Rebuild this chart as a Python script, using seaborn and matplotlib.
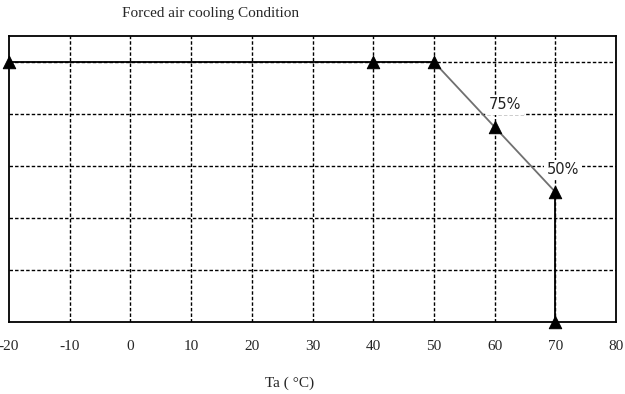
import matplotlib
matplotlib.use("Agg")
import matplotlib.pyplot as plt
import pandas as pd
import seaborn as sns

# derating curve data
temps = [-20, 40, 50, 60, 70, 70]
load = [100, 100, 100, 75, 50, 0]
x_ticks = [-20, -10, 0, 10, 20, 30, 40, 50, 60, 70, 80]
y_grid = [20, 40, 60, 80, 100]
note_labels = ["75%", "50%"]
note_x = [61.7, 71.3]
note_y = [83.5, 58.5]

df = pd.DataFrame({"Ta": temps, "load": load})

sns.set_style("white")
plt.rcParams["font.family"] = ["Liberation Serif", "DejaVu Serif"]

fig = plt.figure(figsize=(6.25, 3.94), dpi=100)
ax = fig.add_axes([9 / 625, 1 - 322 / 394, 607 / 625, 286 / 394])

# grid
for xv in x_ticks[1:-1]:
    ax.axvline(xv, color="black", lw=1, ls=(0, (2.5, 1.5)), zorder=1)
for yv in y_grid:
    ax.axhline(yv, color="black", lw=1, ls=(0, (2.5, 1.5)), zorder=1)

# curve: flat part, slope, drop (estimator=None so the vertical drop is kept)
flat = df.iloc[0:3]
slope = df.iloc[2:5]
drop = df.iloc[4:6]
sns.lineplot(data=flat, x="Ta", y="load", color="black", lw=1.3, ax=ax,
             sort=False, estimator=None, zorder=3)
sns.lineplot(data=slope, x="Ta", y="load", color="#707070", lw=1.3, ax=ax,
             sort=False, estimator=None, zorder=3)
sns.lineplot(data=drop, x="Ta", y="load", color="black", lw=1.3, ax=ax,
             sort=False, estimator=None, zorder=3)
sns.scatterplot(data=df, x="Ta", y="load", marker="^", s=80, color="black",
                edgecolor="black", ax=ax, zorder=4, clip_on=False)

for lab, xv, yv in zip(note_labels, note_x, note_y):
    ax.text(xv, yv, lab, ha="center", va="center", fontsize=10.5,
            family="DejaVu Sans", color="#222222", zorder=2,
            bbox=dict(facecolor="white", edgecolor="none", pad=2))

ax.set_xlim(-20, 80)
ax.set_ylim(0, 110)
ax.set_xticks(x_ticks)
ax.set_xticklabels([str(v) for v in x_ticks], fontsize=11)
ax.set_yticks([])
ax.tick_params(axis="x", length=0, pad=13)
ax.set_xlabel("")
ax.set_ylabel("")
for sp in ax.spines.values():
    sp.set_visible(True)
    sp.set_color("black")
    sp.set_linewidth(1.3)

fig.text(211 / 625, 1 - 14 / 394, "Forced air cooling Condition", ha="center", va="center", fontsize=11)
fig.text(290 / 625, 1 - 383 / 394, "Ta ( \u00b0C)", ha="center", va="center", fontsize=11)

fig.savefig("out.png", dpi=100)
